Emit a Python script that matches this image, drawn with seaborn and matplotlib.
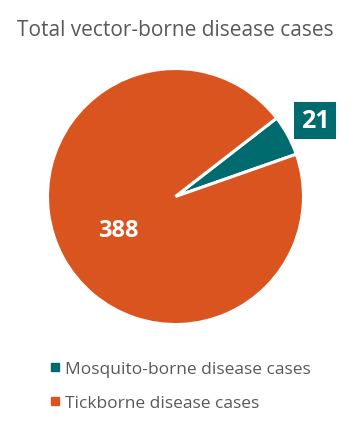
import matplotlib
matplotlib.use("Agg")
import matplotlib.pyplot as plt
from matplotlib.lines import Line2D
import seaborn as sns

categories = ["Mosquito-borne disease cases", "Tickborne disease cases"]
values = [21, 388]
colors = ["#006B6E", "#D9541E"]
title = "Total vector-borne disease cases"

sns.set_theme(style="white")
plt.rcParams['font.family'] = ['Open Sans', 'DejaVu Sans']

W, H = 352, 427
fig = plt.figure(figsize=(W / 100, H / 100), dpi=100)
cx, cy, r = 175.5, 197.5, 128
ax = fig.add_axes([(cx - r) / W, 1 - (cy + r) / H, 2 * r / W, 2 * r / H])
wedges, _ = ax.pie(values, colors=colors, startangle=19.3, counterclock=True,
                   wedgeprops=dict(edgecolor="white", linewidth=2.2))
ax.set_xlim(-1, 1)
ax.set_ylim(-1, 1)
ax.set_aspect("equal")
ax.axis("off")

ax.text(-0.45, -0.26, str(values[1]), color="white", fontsize=17, fontweight="bold",
        ha="center", va="center")
ax.text(1.09, 0.595, str(values[0]), color="white", fontsize=18, fontweight="bold",
        ha="center", va="center",
        bbox=dict(boxstyle="square,pad=0.25", facecolor=colors[0], edgecolor="none"))

fig.text(cx / W, 1 - 30 / H, title, ha="center", va="center", fontsize=15, color="#595959")

handles = [Line2D([0], [0], marker="s", linestyle="none", markersize=5.5,
                  markerfacecolor=c, markeredgecolor=c) for c in colors]
fig.legend(handles, categories, loc="center left", bbox_to_anchor=(34 / W, 1 - 387 / H),
           frameon=False, fontsize=12.5, labelcolor="#595959", handletextpad=0.3,
           labelspacing=1.0, handlelength=0.6)

fig.savefig("out.png", dpi=100)
